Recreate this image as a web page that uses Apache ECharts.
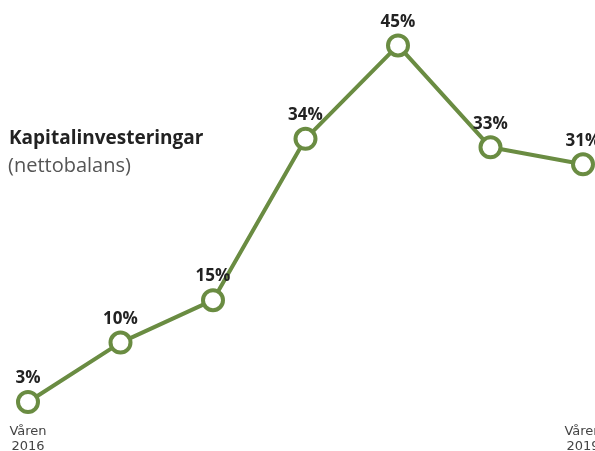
<!DOCTYPE html>
<html>
<head>
<meta charset="utf-8">
<script src="https://cdn.jsdelivr.net/npm/echarts@6/dist/echarts.min.js"></script>
<style>
  html, body { margin: 0; padding: 0; background: #fff; }
  #chart { width: 595px; height: 451px; }
</style>
</head>
<body>
<div id="chart"></div>
<script>
// Net balance of capital investments, spring 2016 to spring 2019
const periods = ['Våren\n2016', '', '', '', '', '', 'Våren\n2019'];
const netBalance = [3, 10, 15, 34, 45, 33, 31];

const titleText = 'Kapitalinvesteringar';
const subtitleText = '(nettobalans)';

const green = '#6a8c42';

const chart = echarts.init(document.getElementById('chart'));
chart.setOption({
  animation: false,
  backgroundColor: '#ffffff',
  grid: {
    left: 28, right: 12, top: 3, bottom: 23.5,
    containLabel: false,
    outerBoundsMode: 'none'
  },
  xAxis: {
    type: 'category',
    data: periods,
    boundaryGap: false,
    axisLine: { show: false },
    axisTick: { show: false },
    splitLine: { show: false },
    axisLabel: {
      interval: 0,
      margin: -3,
      color: '#444',
      fontFamily: 'DejaVu Sans',
      fontSize: 13,
      lineHeight: 15
    }
  },
  yAxis: {
    type: 'value',
    min: 0,
    max: 50,
    show: false
  },
  graphic: [
    {
      type: 'text',
      left: 9,
      top: 129,
      style: {
        text: titleText,
        font: 'bold 19px "Open Sans"',
        fill: '#222'
      }
    },
    {
      type: 'text',
      left: 8,
      top: 156,
      style: {
        text: subtitleText,
        font: '20px "Open Sans"',
        fill: '#555'
      }
    }
  ],
  series: [{
    type: 'line',
    data: netBalance,
    symbol: 'circle',
    symbolSize: 20,
    lineStyle: { color: green, width: 4 },
    itemStyle: { color: '#fff', borderColor: green, borderWidth: 4 },
    label: {
      show: true,
      position: 'top',
      distance: 3,
      formatter: '{c}%',
      color: '#222',
      fontFamily: 'Open Sans',
      fontWeight: 'bold',
      fontSize: 17
    },
    z: 3
  }]
});
</script>
</body>
</html>
